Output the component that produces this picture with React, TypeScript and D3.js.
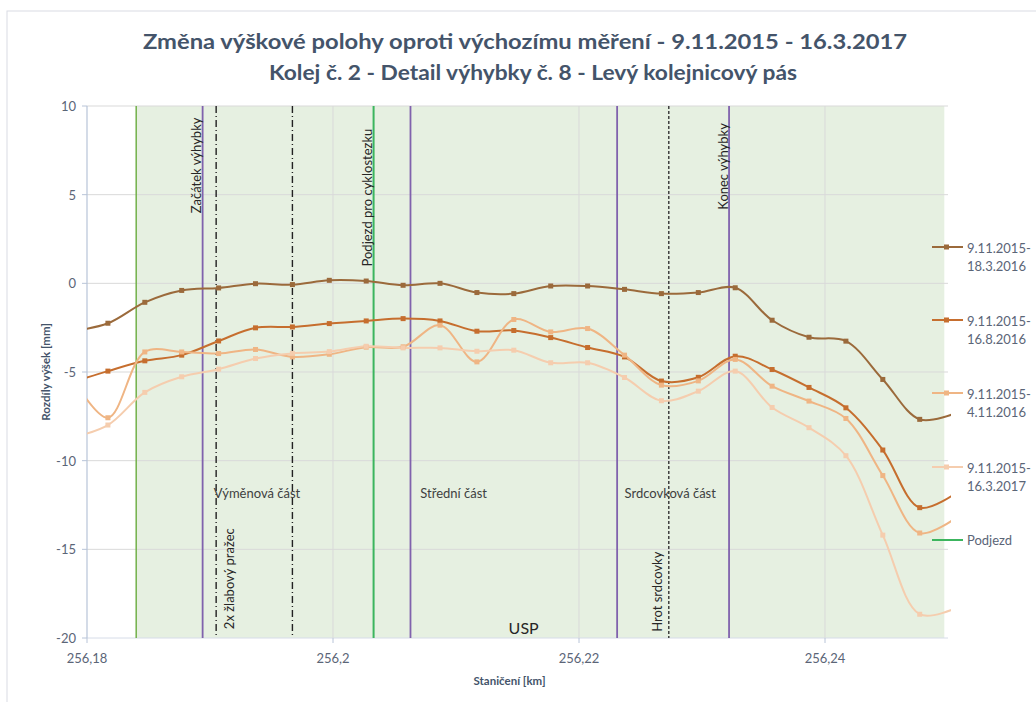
import React from "react";
import * as d3 from "d3";

const stations = [256.1787, 256.1817, 256.1847, 256.1877, 256.1907, 256.1937, 256.1967, 256.1997, 256.2027, 256.2057, 256.2087, 256.2117, 256.2147, 256.2177, 256.2207, 256.2237, 256.2267, 256.2297, 256.2327, 256.2357, 256.2387, 256.2417, 256.2447, 256.2477, 256.2507];

const s1 = [-2.7, -2.25, -1.07, -0.4, -0.26, -0.02, -0.07, 0.17, 0.13, -0.11, 0, -0.52, -0.58, -0.15, -0.15, -0.34, -0.58, -0.52, -0.25, -2.08, -3.04, -3.26, -5.42, -7.67, -7.3];
const s2 = [-5.6, -4.95, -4.37, -4.05, -3.25, -2.51, -2.46, -2.27, -2.12, -1.99, -2.12, -2.7, -2.66, -3.06, -3.62, -4.15, -5.51, -5.3, -4.11, -4.86, -5.87, -7.02, -9.4, -12.65, -11.8];
const s3 = [-5.2, -7.58, -3.87, -3.87, -3.96, -3.73, -4.15, -4.0, -3.6, -3.58, -2.36, -4.43, -2.04, -2.74, -2.55, -4.05, -5.74, -5.5, -4.29, -5.8, -6.64, -7.62, -10.84, -14.08, -13.2];
const s4 = [-8.7, -7.99, -6.15, -5.27, -4.84, -4.24, -3.95, -3.85, -3.55, -3.64, -3.64, -3.83, -3.77, -4.48, -4.48, -5.31, -6.62, -6.08, -4.95, -7.0, -8.14, -9.72, -14.2, -18.66, -18.3];

const seriesNames = [["9.11.2015-", "18.3.2016"], ["9.11.2015-", "16.8.2016"], ["9.11.2015-", "4.11.2016"], ["9.11.2015-", "16.3.2017"]];
const seriesColors = ["#9b6a3b", "#c66e2e", "#efb584", "#f5cdae"];

const yTicks = [10, 5, 0, -5, -10, -15, -20];
const xTicks = [256.18, 256.2, 256.22, 256.24];
const xTickLabels = ["256,18", "256,2", "256,22", "256,24"];

const zoneStart = 256.184;
const zoneEnd = 256.2497;
const purpleLines = [256.1894, 256.2063, 256.2231, 256.2322];
const dashDotLines = [256.1905, 256.1967];
const dashedLines = [256.2273];
const podjezdLine = 256.2033;

const rotatedLabels = [
  { text: "Začátek výhybky", at: 256.1894, dx: -7, y: 3.95 },
  { text: "2x žlabový pražec", at: 256.1905, dx: 13, y: -19.5 },
  { text: "Podjezd pro cyklostezku", at: 256.2033, dx: -7, y: 0.95 },
  { text: "Hrot srdcovky", at: 256.2273, dx: -12, y: -19.65 },
  { text: "Konec výhybky", at: 256.2322, dx: -6, y: 4.15 },
];
const sectionLabels = [
  { text: "Výměnová část", at: 256.1903, y: -11.8 },
  { text: "Střední část", at: 256.2071, y: -11.8 },
  { text: "Srdcovková část", at: 256.2237, y: -11.8 },
];

const W = 1036, H = 702;
const L = 87, R = 948, T = 106, B = 638;
const FONT = "Lato, 'Open Sans', sans-serif";

export default function App() {
  const x = d3.scaleLinear().domain([256.18, 256.25]).range([L, R]);
  const y = d3.scaleLinear().domain([-20, 10]).range([B, T]);
  const line = d3.line<number>().x((_, i) => x(stations[i])).y((v) => y(v)).curve(d3.curveCatmullRom.alpha(0.5));
  const all = [s1, s2, s3, s4];
  const legendY = [247, 320, 393, 467];

  return (
    <svg width={W} height={H} style={{ position: "absolute", left: 0, top: 0, background: "#fff" }} fontFamily={FONT}>
      <defs>
        <clipPath id="plotclip">
          <rect x={L} y={T - 2} width={R - L + 3} height={B - T + 4} />
        </clipPath>
      </defs>
      <rect x={7} y={11} width={W + 10} height={H + 10} fill="#fff" stroke="#d9dce3" strokeWidth={1} />
      <text x={525} y={49} textAnchor="middle" fontSize={21} fontWeight="bold" fill="#44546a" textLength={764} lengthAdjust="spacingAndGlyphs">Změna výškové polohy oproti výchozímu měření - 9.11.2015 - 16.3.2017</text>
      <text x={533} y={80} textAnchor="middle" fontSize={21} fontWeight="bold" fill="#44546a" textLength={528} lengthAdjust="spacingAndGlyphs">Kolej č. 2 - Detail výhybky č. 8 - Levý kolejnicový pás</text>

      {/* shaded zone */}
      <rect x={x(zoneStart)} y={y(10)} width={x(zoneEnd) - x(zoneStart)} height={y(-20) - y(10)} fill="#e6f0e1" />

      {/* gridlines */}
      {yTicks.map((t) => (
        <line key={"gy" + t} x1={L} x2={R} y1={y(t)} y2={y(t)} stroke={t === -20 ? "#d6dce8" : "#d9d9d9"} strokeWidth={1} />
      ))}
      {xTicks.slice(1).map((t) => (
        <line key={"gx" + t} x1={x(t)} x2={x(t)} y1={T} y2={B} stroke="#d9d9d9" strokeWidth={1} />
      ))}
      {/* axes */}
      <line x1={L} x2={L} y1={T} y2={B} stroke="#b8c4d8" strokeWidth={1.2} />
      {yTicks.map((t) => (
        <line key={"ty" + t} x1={L - 5} x2={L} y1={y(t)} y2={y(t)} stroke="#b8c4d8" />
      ))}
      {xTicks.map((t) => (
        <line key={"tx" + t} x1={x(t)} x2={x(t)} y1={B} y2={B + 5} stroke="#b8c4d8" />
      ))}

      {/* vertical markers */}
      <line x1={x(zoneStart)} x2={x(zoneStart)} y1={T} y2={B} stroke="#72b04a" strokeWidth={1.5} />
      <line x1={x(podjezdLine)} x2={x(podjezdLine)} y1={T} y2={B} stroke="#3cb55e" strokeWidth={2} />
      {purpleLines.map((v) => (
        <line key={"p" + v} x1={x(v)} x2={x(v)} y1={T} y2={B} stroke="#8062ad" strokeWidth={1.8} />
      ))}
      {dashDotLines.map((v) => (
        <line key={"dd" + v} x1={x(v)} x2={x(v)} y1={T} y2={B} stroke="#222" strokeWidth={1.4} strokeDasharray="7,3,1,3" />
      ))}
      {dashedLines.map((v) => (
        <line key={"ds" + v} x1={x(v)} x2={x(v)} y1={T} y2={B} stroke="#333" strokeWidth={1.4} strokeDasharray="3,2" />
      ))}

      {/* series */}
      <g clipPath="url(#plotclip)">
        {all.map((s, si) => (
          <path key={"s" + si} d={line(s) || ""} fill="none" stroke={seriesColors[si]} strokeWidth={2} />
        ))}
        {all.map((s, si) =>
          s.map((v, i) => (
            <rect key={"m" + si + "-" + i} x={x(stations[i]) - 2.5} y={y(v) - 2.5} width={5} height={5} fill={seriesColors[si]} />
          ))
        )}
      </g>

      {/* annotations */}
      {rotatedLabels.map((l) => (
        <text key={l.text} transform={`translate(${x(l.at) + l.dx},${y(l.y)}) rotate(-90)`} dominantBaseline="central" fontSize={13} fill="#262626">{l.text}</text>
      ))}
      {sectionLabels.map((l) => (
        <text key={l.text} x={x(l.at)} y={y(l.y)} dominantBaseline="central" fontSize={13} fill="#404040">{l.text}</text>
      ))}
      <text x={x(256.2155)} y={y(-19.4)} textAnchor="middle" dominantBaseline="central" fontSize={16} fill="#262626">USP</text>

      {/* tick labels */}
      {yTicks.map((t) => (
        <text key={"ly" + t} x={L - 11} y={y(t)} textAnchor="end" dominantBaseline="central" fontSize={13} fill="#5b6577">{t}</text>
      ))}
      {xTicks.map((t, i) => (
        <text key={"lx" + t} x={x(t)} y={B + 20} textAnchor="middle" dominantBaseline="central" fontSize={13} fill="#5b6577">{xTickLabels[i]}</text>
      ))}
      <text transform={`translate(45,${(T + B) / 2}) rotate(-90)`} textAnchor="middle" dominantBaseline="central" fontSize={11.5} fontWeight="bold" fill="#44546a">Rozdíly výšek [mm]</text>
      <text x={(L + R) / 2 - 8} y={680} textAnchor="middle" dominantBaseline="central" fontSize={11.5} fontWeight="bold" fill="#44546a">Staničení [km]</text>

      {/* legend */}
      {seriesNames.map((n, i) => (
        <g key={"lg" + i}>
          <line x1={932} x2={963} y1={legendY[i]} y2={legendY[i]} stroke={seriesColors[i]} strokeWidth={2} />
          <rect x={944} y={legendY[i] - 2.5} width={5} height={5} fill={seriesColors[i]} />
          <text x={967} y={legendY[i] + 1} dominantBaseline="central" fontSize={13} fill="#5b6577">{n[0]}</text>
          <text x={967} y={legendY[i] + 19} dominantBaseline="central" fontSize={13} fill="#5b6577">{n[1]}</text>
        </g>
      ))}
      <line x1={932} x2={963} y1={540} y2={540} stroke="#3cb55e" strokeWidth={2} />
      <text x={967} y={540} dominantBaseline="central" fontSize={13} fill="#5b6577">Podjezd</text>
    </svg>
  );
}
